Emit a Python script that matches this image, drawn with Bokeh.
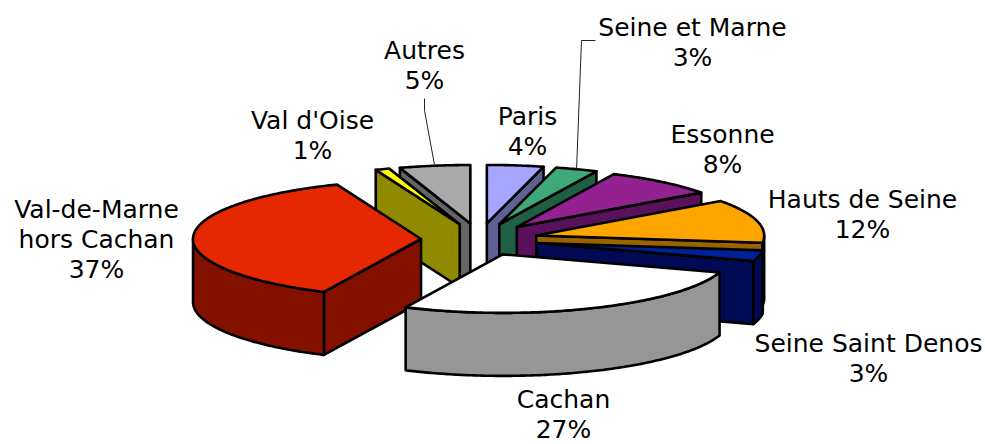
import math
from bokeh.plotting import figure
from bokeh.embed import file_html
from bokeh.resources import INLINE
from bokeh.core.properties import value

# ---- data, clockwise from 12 o'clock
categories = ["Paris", "Seine et Marne", "Essonne", "Hauts de Seine", "Seine Saint Denos",
              "Cachan", "Val-de-Marne\nhors Cachan", "Val d'Oise", "Autres"]
shares = [4, 3, 8, 12, 3, 27, 37, 1, 5]

# ---- styles
top_colors = ["#A6A6FF", "#3FA878", "#932290", "#FFA500", "#00209A",
              "#FFFFFF", "#E62800", "#FFFF00", "#A9A9A9"]
side_colors = ["#5E6094", "#1F6045", "#58115A", "#996300", "#000A55",
               "#969696", "#841000", "#908A00", "#656565"]

# ---- layout, in page pixels
W, H = 985, 444
OX, OY = 0, 0
CX, CY = 479, 239
RX, RY = 228, 58.5
DEPTH = 63
EX, EY = 58.5, 16.2
draw_order = [8, 0, 7, 1, 2, 3, 4, 6, 5]
# centre x and first text anchor of each label
label_pos = [(527, 116), (692, 27), (722, 134), (862, 199), (868, 343),
             (563, 399), (96, 209), (312, 120), (424, 50)]
LINE = 30
FONT = "25px"
# leader lines: elbow points from the label to the slice's rim
leaders = {8: [(424, 98), (424, 110)], 1: [(595, 40), (581, 40)]}

total = sum(shares)
p = figure(width=W, height=H, x_range=(OX, OX + W), y_range=(OY + H, OY),
           output_backend="svg", toolbar_location=None, min_border=0,
           outline_line_color=None, background_fill_color="white")
p.axis.visible = False
p.grid.visible = False

bounds = []
acc = 0
for v in shares:
    bounds.append((acc / total * 360, (acc + v) / total * 360))
    acc += v


def arc(a0, a1, ax, ay, n=None):
    n = n or max(2, int(abs(a1 - a0) * 1.5) + 2)
    pts = []
    for i in range(n):
        a = math.radians(a0 + (a1 - a0) * i / (n - 1))
        pts.append((ax + RX * math.sin(a), ay - RY * math.cos(a)))
    return pts


def poly(pts, fill):
    p.patch([q[0] for q in pts], [q[1] for q in pts], fill_color=fill,
            line_color="black", line_width=2.6, line_join="round")


apexes = []
for a0, a1 in bounds:
    m = math.radians((a0 + a1) / 2)
    apexes.append((CX + EX * math.sin(m), CY - EY * math.cos(m)))

rim_points = {}
for i in draw_order:
    a0, a1 = bounds[i]
    ax, ay = apexes[i]
    side, top = side_colors[i], top_colors[i]
    # radial walls that face the viewer
    if 180 < a0 < 360:
        q = arc(a0, a0, ax, ay, 2)[0]
        poly([(ax, ay), q, (q[0], q[1] + DEPTH), (ax, ay + DEPTH)], side)
    if 0 < a1 < 180:
        q = arc(a1, a1, ax, ay, 2)[0]
        poly([(ax, ay), q, (q[0], q[1] + DEPTH), (ax, ay + DEPTH)], side)
    # outer wall, front half only
    w0, w1 = max(a0, 90), min(a1, 270)
    if w1 > w0:
        rim = arc(w0, w1, ax, ay)
        poly(rim + [(x, y + DEPTH) for x, y in reversed(rim)], side)
    # top face
    poly([(ax, ay)] + arc(a0, a1, ax, ay), top)
    rim_points[i] = arc((a0 + a1) / 2, (a0 + a1) / 2, ax, ay, 2)[0]

for i, elbow in leaders.items():
    pts = elbow + [rim_points[i]]
    p.line([q[0] for q in pts], [q[1] for q in pts], line_color="#222222", line_width=1)

xs, ys, texts = [], [], []
for name, v, (lx, ly) in zip(categories, shares, label_pos):
    lines = name.split("\n") + [f"{v}%"]
    for k, t in enumerate(lines):
        xs.append(lx)
        ys.append(ly + k * LINE)
        texts.append(t)
p.text(xs, ys, text=texts, text_align="center", text_baseline="alphabetic",
       text_font=value("DejaVu Sans"), text_font_size=FONT, text_color="black")

open("out.html", "w").write(file_html(p, INLINE))
